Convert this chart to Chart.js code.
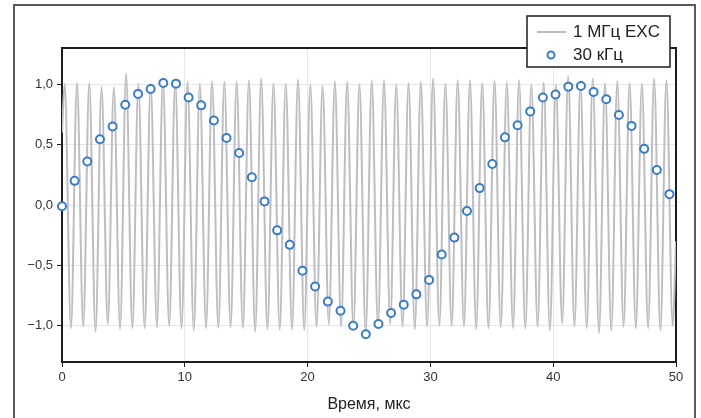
<!DOCTYPE html>
<html>
<head>
<meta charset="utf-8">
<script src="https://cdn.jsdelivr.net/npm/chart.js@4.4.0/dist/chart.umd.min.js"></script>
<style>
  body { margin: 0; background: #fff; }
  #wrap { position: relative; width: 701px; height: 418px; }
</style>
</head>
<body>
<div id="wrap"><canvas id="myChart" width="701" height="418"></canvas></div>
<script>
// 1 MHz carrier: extremes (peaks ~n+0.22, troughs ~n+0.73)
const waveTime = [0,
  0.22, 0.73, 1.22, 1.73, 2.22, 2.73, 3.22, 3.73, 4.22, 4.73,
  5.22, 5.73, 6.22, 6.73, 7.22, 7.73, 8.22, 8.73, 9.22, 9.73,
  10.22, 10.73, 11.22, 11.73, 12.22, 12.73, 13.22, 13.73, 14.22, 14.73,
  15.22, 15.73, 16.22, 16.73, 17.22, 17.73, 18.22, 18.73, 19.22, 19.73,
  20.22, 20.73, 21.22, 21.73, 22.22, 22.73, 23.22, 23.73, 24.22, 24.73,
  25.22, 25.73, 26.22, 26.73, 27.22, 27.73, 28.22, 28.73, 29.22, 29.73,
  30.22, 30.73, 31.22, 31.73, 32.22, 32.73, 33.22, 33.73, 34.22, 34.73,
  35.22, 35.73, 36.22, 36.73, 37.22, 37.73, 38.22, 38.73, 39.22, 39.73,
  40.22, 40.73, 41.22, 41.73, 42.22, 42.73, 43.22, 43.73, 44.22, 44.73,
  45.22, 45.73, 46.22, 46.73, 47.22, 47.73, 48.22, 48.73, 49.22, 49.73,
  50]
const waveValue = [0.6,
  1.005, -1.02, 1.01, -1.006, 1.011, -1.05, 0.98, -0.99, 0.975, -1.028,
  1.09, -1.02, 1.005, -1.02, 1.005, -1.011, 1.03, -1.0, 1.02, -1.022,
  1.02, -1.039, 1.005, -1.02, 1.025, -1.017, 1.02, -1.011, 1.02, -1.02,
  1.033, -1.047, 1.047, -1.03, 1.005, -1.03, 1.005, -1.03, 1.04, -1.036,
  1.0, -1.006, 0.986, -0.99, 1.025, -1.006, 1.02, -1.02, 1.0, -1.06,
  1.033, -1.006, 1.033, -0.99, 0.997, -1.006, 1.008, -1.03, 1.02, -1.006,
  1.047, -1.0, 1.005, -1.0, 1.033, -1.006, 1.033, -1.028, 1.01, -1.02,
  1.03, -1.011, 1.014, -1.02, 1.033, -1.022, 1.0, -1.006, 1.014, -1.039,
  0.997, -0.98, 1.067, -1.006, 1.005, -1.02, 1.047, -1.06, 1.01, -1.04,
  1.025, -1.006, 1.01, -1.02, 1.005, -1.02, 1.047, -1.039, 1.033, -1.0,
  -0.3]

// 30 kHz samples
const sampleTime = [0, 1.03, 2.06, 3.09, 4.12, 5.15, 6.19, 7.22, 8.25, 9.28,
  10.31, 11.34, 12.37, 13.40, 14.43, 15.46, 16.49, 17.52, 18.55, 19.58,
  20.61, 21.65, 22.68, 23.71, 24.74, 25.77, 26.80, 27.83, 28.86, 29.89,
  30.92, 31.95, 32.98, 34.01, 35.04, 36.07, 37.10, 38.13, 39.16, 40.19,
  41.23, 42.26, 43.29, 44.32, 45.35, 46.38, 47.41, 48.44, 49.47]
const sampleValue = [-0.01, 0.20, 0.36, 0.545, 0.65, 0.83, 0.92, 0.96, 1.01, 1.005,
  0.89, 0.825, 0.70, 0.555, 0.43, 0.23, 0.03, -0.21, -0.33, -0.545,
  -0.675, -0.80, -0.875, -1.00, -1.07, -0.985, -0.895, -0.825, -0.74, -0.62,
  -0.41, -0.27, -0.05, 0.14, 0.34, 0.56, 0.66, 0.775, 0.89, 0.915,
  0.98, 0.985, 0.935, 0.875, 0.745, 0.655, 0.465, 0.29, 0.09]

const xTicks = [0, 10, 20, 30, 40, 50]
const yTicks = [-1.0, -0.5, 0.0, 0.5, 1.0]
const seriesNames = ['1 МГц EXC', '30 кГц']

const lineColor = '#bdbdc2'
const dotColor = '#3a7cc8'
const fontFamily = '"Liberation Sans", Arial, sans-serif'

function fmt(v) {
  let s = Math.abs(v) < 1e-9 ? '0,0' : v.toFixed(1).replace('.', ',')
  return s.replace('-', '\u2212')
}

// frame round the plot, outer box, legend
const framePlugin = {
  id: 'frame',
  beforeDraw(chart) {
    let c = chart.ctx
    c.save()
    c.fillStyle = '#fff'
    c.fillRect(0, 0, chart.width, chart.height)
    c.strokeStyle = '#5a5a5a'
    c.lineWidth = 2
    c.strokeRect(14, 5, 681, 440)
    c.restore()
  },
  beforeDatasetsDraw(chart) {
    let a = chart.chartArea, c = chart.ctx
    c.save()
    c.strokeStyle = '#1e1e1e'
    c.lineWidth = 2
    c.strokeRect(a.left, a.top, a.right - a.left, a.bottom - a.top)
    c.restore()
  },
  afterDraw(chart) {
    let c = chart.ctx
    c.save()
    c.fillStyle = '#fff'
    c.fillRect(527, 16, 143, 51)
    c.strokeStyle = '#1e1e1e'
    c.lineWidth = 1.5
    c.strokeRect(527, 16, 143, 51)
    c.strokeStyle = lineColor
    c.lineWidth = 2
    c.beginPath()
    c.moveTo(537, 32)
    c.lineTo(566, 32)
    c.stroke()
    c.strokeStyle = dotColor
    c.beginPath()
    c.arc(551, 55, 3.5, 0, Math.PI * 2)
    c.stroke()
    c.fillStyle = '#222'
    c.font = '17px ' + fontFamily
    c.textBaseline = 'middle'
    c.fillText(seriesNames[0], 573, 32)
    c.fillText(seriesNames[1], 573, 55)
    c.restore()
  }
}

let ctx = document.getElementById('myChart').getContext('2d')

let myChart = new Chart(ctx, {
  type: 'line',
  data: {
    datasets: [{
      label: seriesNames[0],
      data: waveTime.map((t, i) => ({ x: t, y: waveValue[i] })),
      borderColor: lineColor,
      borderWidth: 2,
      pointRadius: 0,
      cubicInterpolationMode: 'monotone',
      order: 2
    }, {
      label: seriesNames[1],
      data: sampleTime.map((t, i) => ({ x: t, y: sampleValue[i] })),
      showLine: false,
      pointRadius: 4,
      pointBorderWidth: 2,
      borderColor: dotColor,
      backgroundColor: '#fff',
      clip: false,
      order: 1
    }]
  },
  options: {
    responsive: false,
    animation: false,
    layout: { padding: { top: 48, right: 25, left: 0, bottom: 0 } },
    plugins: { legend: { display: false }, tooltip: { enabled: false } },
    scales: {
      x: {
        type: 'linear',
        min: 0,
        max: 50,
        afterBuildTicks: s => { s.ticks = xTicks.map(v => ({ value: v })) },
        afterFit: s => { s.height = 56 },
        ticks: { color: '#333', font: { size: 13, family: fontFamily }, padding: 3, maxRotation: 0 },
        grid: { color: '#e6e6e6', tickColor: '#1e1e1e', tickLength: 5 },
        border: { display: true, color: '#1e1e1e', width: 2 },
        title: { display: true, text: 'Время, мкс', color: '#222',
          font: { size: 16, family: fontFamily }, padding: { top: 6 } }
      },
      y: {
        type: 'linear',
        min: -1.3,
        max: 1.3,
        afterBuildTicks: s => { s.ticks = yTicks.map(v => ({ value: v })) },
        afterFit: s => { s.width = 62 },
        ticks: { color: '#333', font: { size: 13, family: fontFamily }, padding: 4,
          callback: v => fmt(v) },
        grid: { color: '#e6e6e6', tickColor: '#1e1e1e', tickLength: 5 },
        border: { display: true, color: '#1e1e1e', width: 2 }
      }
    }
  },
  plugins: [framePlugin]
})
</script>
</body>
</html>
